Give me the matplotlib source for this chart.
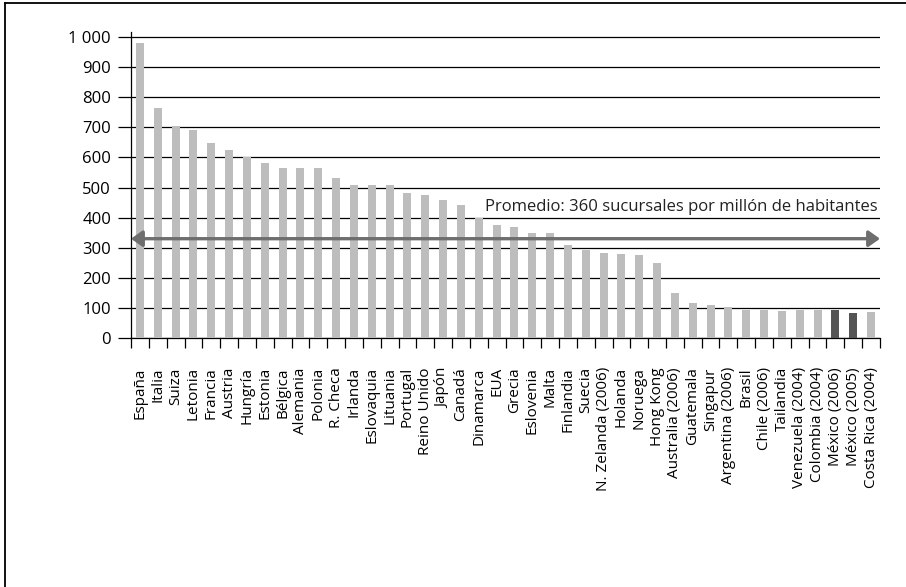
import numpy as np
import matplotlib.pyplot as plt
from matplotlib.lines import Line2D
from matplotlib.ticker import FixedLocator, FuncFormatter

plt.rcParams['font.family'] = ['Open Sans', 'DejaVu Sans']

# sucursales bancarias por millón de habitantes
paises = ['España', 'Italia', 'Suiza', 'Letonia', 'Francia', 'Austria', 'Hungría',
          'Estonia', 'Bélgica', 'Alemania', 'Polonia', 'R. Checa', 'Irlanda',
          'Eslovaquia', 'Lituania', 'Portugal', 'Reino Unido', 'Japón', 'Canadá',
          'Dinamarca', 'EUA', 'Grecia', 'Eslovenia', 'Malta', 'Finlandia', 'Suecia',
          'N. Zelanda (2006)', 'Holanda', 'Noruega', 'Hong Kong', 'Australia (2006)',
          'Guatemala', 'Singapur', 'Argentina (2006)', 'Brasil', 'Chile (2006)',
          'Tailandia', 'Venezuela (2004)', 'Colombia (2004)', 'México (2006)',
          'México (2005)', 'Costa Rica (2004)']
valores = [980, 765, 705, 692, 648, 625, 600, 582, 565, 565, 565, 532, 510, 510, 510,
           483, 476, 460, 442, 400, 375, 368, 349, 349, 309, 292, 282, 279, 276, 249,
           150, 116, 109, 103, 93, 93, 90, 93, 93, 93, 83, 86]
destacados = ['México (2006)', 'México (2005)']
promedio_y = 330
promedio_txt = 'Promedio: 360 sucursales por millón de habitantes'

fig = plt.figure(figsize=(9.06, 5.87), dpi=100)
ax = fig.add_axes([0.1446, 0.4242, 0.8267, 0.5213])

x = np.arange(len(paises))
colores = ['#555555' if p in destacados else '#bdbdbd' for p in paises]
ax.bar(x, valores, width=0.45, color=colores, zorder=3)

ax.set_xlim(-0.5, len(paises) - 0.5)
ax.set_ylim(0, 1017)

# eje y
ax.set_yticks(np.arange(0, 1001, 100))
ax.yaxis.set_major_formatter(FuncFormatter(lambda v, p: f'{int(v):,}'.replace(',', ' ')))
ax.tick_params(axis='y', length=9.4, width=0.9, color='black', pad=5, labelsize=12)
ax.yaxis.grid(True, color='black', lw=0.9, zorder=1)

# eje x
ax.set_xticks(x)
ax.set_xticklabels(paises, rotation=90, va='top', ha='center', fontsize=11)
ax.tick_params(axis='x', which='major', length=0, pad=21)
ax.xaxis.set_minor_locator(FixedLocator(np.arange(-0.5, len(paises), 1)))
ax.tick_params(axis='x', which='minor', length=7, width=0.9, color='black')

for s in ['top', 'right']:
    ax.spines[s].set_visible(False)
for s in ['left', 'bottom']:
    ax.spines[s].set_color('black')
    ax.spines[s].set_linewidth(0.9)

# línea de promedio
ax.annotate('', xy=(len(paises) - 0.5, promedio_y), xytext=(-0.5, promedio_y),
            arrowprops=dict(arrowstyle='<|-|>,head_length=0.45,head_width=0.32',
                            mutation_scale=15, lw=2.4, color='#6e6e6e',
                            shrinkA=0, shrinkB=0), zorder=4, annotation_clip=False)
ax.text(41.34, 435, promedio_txt, ha='right', va='center', fontsize=12,
        color='#222222', zorder=5,
        bbox=dict(facecolor='white', edgecolor='none', pad=0.5))

# marco
fig.add_artist(Line2D([5 / 906, 5 / 906], [0, 1 - 3 / 587], color='black', lw=1.3))
fig.add_artist(Line2D([5 / 906, 1], [1 - 3 / 587, 1 - 3 / 587], color='black', lw=1.3))

fig.savefig('out.png', dpi=100)
